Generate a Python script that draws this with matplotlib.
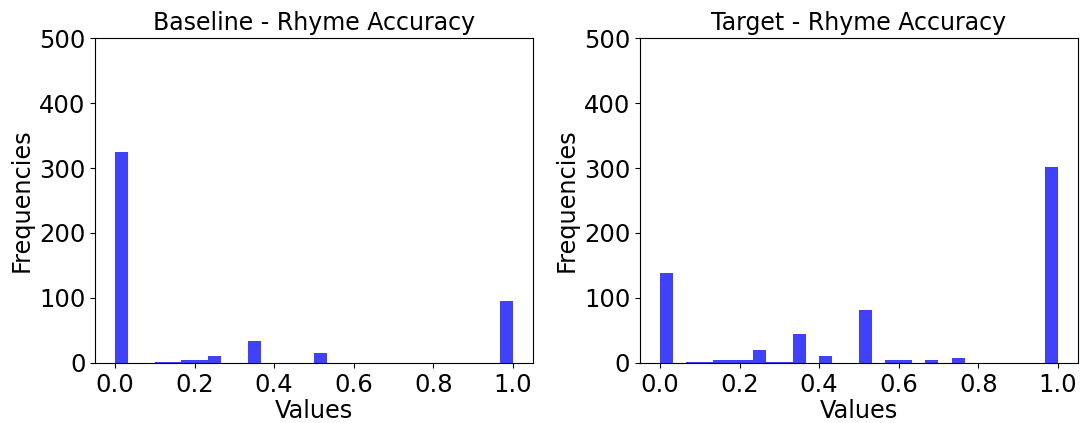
import numpy as np
import matplotlib
matplotlib.use("Agg")
import matplotlib.pyplot as plt

# 30 equal bins over [0, 1]; counts per bin
n_bins = 30
baseline_counts = [325, 0, 0, 2, 2, 5, 5, 11, 0, 0,
                   34, 0, 0, 0, 0, 16, 0, 0, 0, 0,
                   0, 0, 0, 0, 0, 0, 0, 0, 0, 96]
target_counts = [139, 0, 2, 2, 4, 5, 5, 20, 2, 2,
                 45, 0, 10, 0, 0, 82, 0, 4, 4, 0,
                 5, 0, 7, 0, 0, 0, 0, 0, 0, 302]
titles = ["Baseline - Rhyme Accuracy", "Target - Rhyme Accuracy"]
x_ticks = [0.0, 0.2, 0.4, 0.6, 0.8, 1.0]

edges = np.linspace(0, 1, n_bins + 1)
centers = (edges[:-1] + edges[1:]) / 2

fig, axes = plt.subplots(1, 2, figsize=(10.81, 4.23), dpi=100)
for ax, counts, title in zip(axes, [baseline_counts, target_counts], titles):
    ax.hist(centers, bins=edges, weights=counts, color="blue", alpha=0.75)
    ax.set_ylim(0, 500)
    ax.set_xticks(x_ticks)
    ax.tick_params(labelsize=17.5)
    ax.set_title(title, fontsize=17)
    ax.set_xlabel("Values", fontsize=17.3, labelpad=2)
    ax.set_ylabel("Frequencies", fontsize=17.3)

plt.subplots_adjust(left=0.088, right=0.997, bottom=0.142, top=0.91, wspace=0.245)
plt.savefig("out.png")
